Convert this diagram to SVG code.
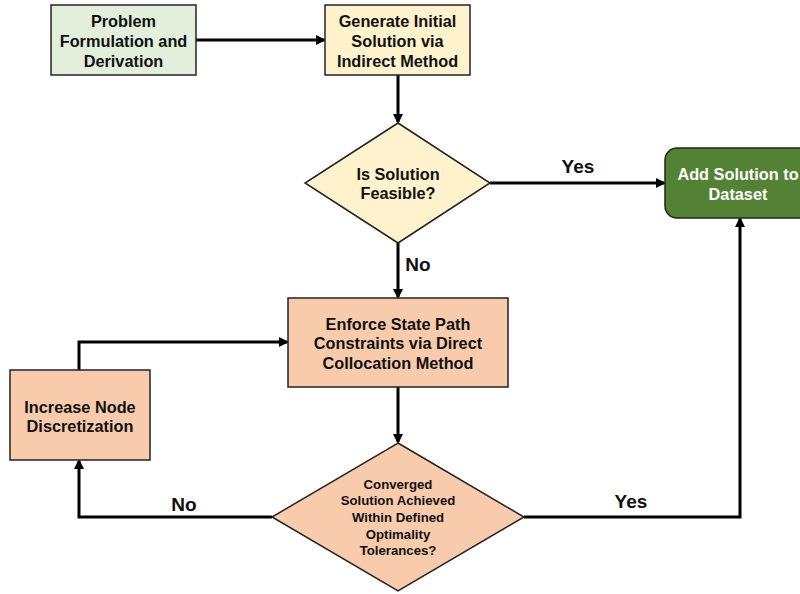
<svg xmlns="http://www.w3.org/2000/svg" width="800" height="594" viewBox="0 0 800 594">
<style>
.t{font-family:"Liberation Sans",Arial,sans-serif;font-weight:bold;font-size:16.3px;fill:#111;text-anchor:middle}
.s{font-size:13.2px}
.l{font-size:19px}
.w{fill:#fff}
.b{stroke:#222;stroke-width:1.5}
.c{fill:none;stroke:#000;stroke-width:3}
</style>
<defs>
<marker id="a" markerWidth="10" markerHeight="10" refX="8" refY="5" orient="auto" markerUnits="userSpaceOnUse">
<path d="M0,0 L10,5 L0,10 Z" fill="#000"/>
</marker>
</defs>
<rect width="800" height="594" fill="#fff"/>
<g id="connectors">
<path class="c" d="M196,40 H324" marker-end="url(#a)"/>
<path class="c" d="M398,75 V122" marker-end="url(#a)"/>
<path class="c" d="M490,183 H664" marker-end="url(#a)"/>
<path class="c" d="M398,243 V297" marker-end="url(#a)"/>
<path class="c" d="M398,387 V442" marker-end="url(#a)"/>
<path class="c" d="M524,517 H740 V219" marker-end="url(#a)"/>
<path class="c" d="M272,517 H79 V461" marker-end="url(#a)"/>
<path class="c" d="M79,370 V342 H287" marker-end="url(#a)"/>
<text class="t l" x="578" y="173">Yes</text>
<text class="t l" x="418" y="271">No</text>
<text class="t l" x="631" y="508">Yes</text>
<text class="t l" x="184" y="511">No</text>
</g>
<g id="problem">
<rect class="b" x="51" y="5" width="145" height="70" fill="#e2efda"/>
<text class="t" x="123.5" y="27">Problem</text>
<text class="t" x="123.5" y="47">Formulation and</text>
<text class="t" x="123.5" y="67">Derivation</text>
</g>
<g id="generate">
<rect class="b" x="325" y="5" width="145" height="70" fill="#fff2cc"/>
<text class="t" x="397.5" y="27">Generate Initial</text>
<text class="t" x="397.5" y="47">Solution via</text>
<text class="t" x="397.5" y="67">Indirect Method</text>
</g>
<g id="feasible">
<polygon class="b" points="398,123 490,183 398,243 305,183" fill="#fff2cc"/>
<text class="t" x="398" y="180">Is Solution</text>
<text class="t" x="398" y="199">Feasible?</text>
</g>
<g id="add">
<rect class="b" x="665" y="148" width="150" height="70" rx="12" fill="#548235"/>
<text class="t w" x="738" y="180">Add Solution to</text>
<text class="t w" x="738" y="200">Dataset</text>
</g>
<g id="enforce">
<rect class="b" x="288" y="298" width="220" height="89" fill="#f8cbad"/>
<text class="t" x="398" y="330">Enforce State Path</text>
<text class="t" x="398" y="349">Constraints via Direct</text>
<text class="t" x="398" y="369">Collocation Method</text>
</g>
<g id="increase">
<rect class="b" x="10" y="370" width="140" height="90" fill="#f8cbad"/>
<text class="t" x="80" y="413">Increase Node</text>
<text class="t" x="80" y="432">Discretization</text>
</g>
<g id="converged">
<polygon class="b" points="398,443 524,517 398,591 272,517" fill="#f8cbad"/>
<text class="t s" x="398" y="489">Converged</text>
<text class="t s" x="398" y="505">Solution Achieved</text>
<text class="t s" x="398" y="522">Within Defined</text>
<text class="t s" x="398" y="539">Optimality</text>
<text class="t s" x="398" y="555">Tolerances?</text>
</g>
</svg>
